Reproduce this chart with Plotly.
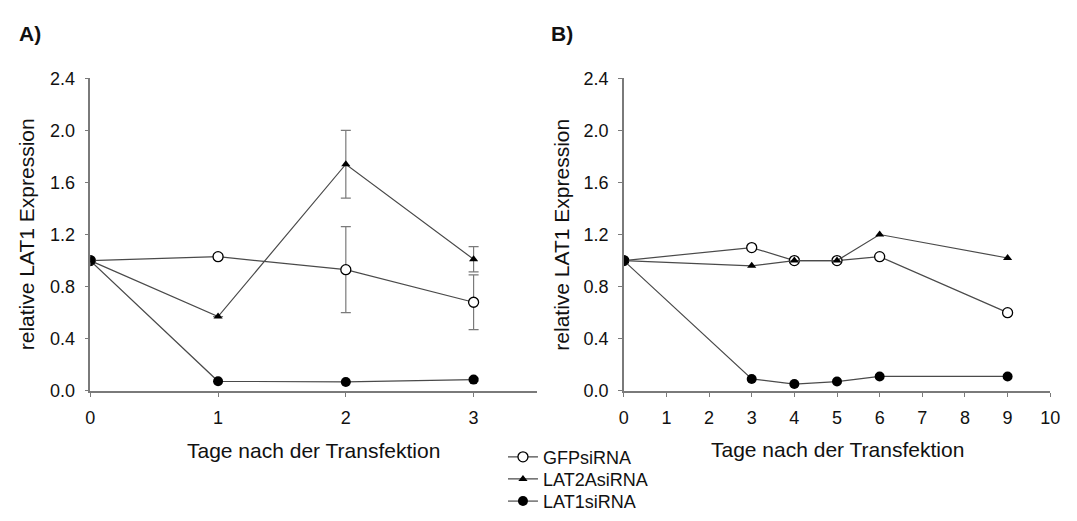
import plotly.graph_objects as go

# Panel A: days 0-3 after transfection, mean relative LAT1 expression with SD
days_a = [0, 1, 2, 3]
gfp_a = [1.0, 1.03, 0.93, 0.68]
gfp_a_err = [0.0, 0.02, 0.33, 0.21]
lat2a_a = [1.0, 0.57, 1.74, 1.01]
lat2a_a_err = [0.0, 0.0, 0.26, 0.097]
lat1_a = [1.0, 0.073, 0.068, 0.086]
lat1_a_err = [0.0, 0.0, 0.0, 0.01]

# Panel B: longer time course
days_b = [0, 3, 4, 5, 6, 9]
gfp_b = [1.0, 1.10, 1.0, 1.0, 1.03, 0.60]
lat2a_b = [1.0, 0.96, 1.0, 1.0, 1.20, 1.02]
lat1_b = [1.0, 0.091, 0.052, 0.071, 0.11, 0.11]

series_names = ["GFPsiRNA", "LAT2AsiRNA", "LAT1siRNA"]
y_ticks = [0.0, 0.4, 0.8, 1.2, 1.6, 2.0, 2.4]

FONT = "Liberation Sans, Arial, sans-serif"
LINE = "#4a4a4a"
AXIS = "#7a7a7a"

W, H = 1077, 521


def px_x(p):
    return p / W


def px_y(p):
    return 1 - p / H


fig = go.Figure()

marker_styles = [
    dict(symbol="circle", size=10, color="white", line=dict(width=1.3, color="black")),
    dict(symbol="triangle-up", size=8, color="black"),
    dict(symbol="circle", size=10, color="black"),
]
legend_ids = ["legend", "legend2", "legend3"]


def err(arr):
    return dict(type="data", array=arr, visible=True, color=AXIS, thickness=1.2, width=5)


def add_series(x, y, idx, xa, ya, error=None, show=False):
    fig.add_trace(go.Scatter(
        x=x, y=y, mode="lines+markers", name=series_names[idx],
        xaxis=xa, yaxis=ya, showlegend=show, legend=legend_ids[idx],
        line=dict(color=LINE, width=1.2),
        marker=marker_styles[idx],
        error_y=error,
    ))


add_series(days_a, gfp_a, 0, "x", "y", err(gfp_a_err), show=True)
add_series(days_a, lat2a_a, 1, "x", "y", err(lat2a_a_err), show=True)
add_series(days_a, lat1_a, 2, "x", "y", err(lat1_a_err), show=True)

add_series(days_b, gfp_b, 0, "x2", "y2")
add_series(days_b, lat2a_b, 1, "x2", "y2")
add_series(days_b, lat1_b, 2, "x2", "y2")

y_dom = [px_y(396), px_y(71)]
common_axis = dict(
    showgrid=False, zeroline=False, showline=True, linecolor=AXIS, linewidth=1.5,
    ticks="outside", ticklen=4, tickwidth=1.2, tickcolor=AXIS,
    tickfont=dict(family=FONT, size=18, color="#111"),
)

# one single-item legend per series so each row sits at its own height
legend_rows = [465, 488, 511]
legend_common = dict(
    xanchor="left", yanchor="middle",
    font=dict(family=FONT, size=18, color="#111"),
    bgcolor="rgba(0,0,0,0)", borderwidth=0, itemwidth=30,
)
legends = {}
for lid, row in zip(legend_ids, legend_rows):
    legends[lid] = dict(x=px_x(505), y=px_y(row), **legend_common)

fig.update_layout(
    width=W, height=H,
    margin=dict(l=0, r=0, t=0, b=0),
    paper_bgcolor="white", plot_bgcolor="white",
    showlegend=True,
    xaxis=dict(domain=[px_x(86.5), px_x(540)], range=[0, 3.5],
               tickvals=days_a, ticklabelstandoff=6, **common_axis),
    yaxis=dict(domain=y_dom, range=[0, 2.4], tickvals=y_ticks,
               tickformat=".1f", ticklabelstandoff=6, **common_axis),
    xaxis2=dict(domain=[px_x(627.5), px_x(1060)], range=[0, 10],
                tickvals=list(range(0, 11)), ticklabelstandoff=6, anchor="y2", **common_axis),
    yaxis2=dict(domain=y_dom, range=[0, 2.4], tickvals=y_ticks,
                tickformat=".1f", ticklabelstandoff=6, anchor="x2", **common_axis),
    **legends,
)

title_font = dict(family=FONT, size=21, color="#111")
annotations = [
    dict(text="<b>A)</b>", x=px_x(12), y=px_y(24), xanchor="left", yanchor="middle",
         font=dict(family=FONT, size=21, color="#111")),
    dict(text="<b>B)</b>", x=px_x(552), y=px_y(24), xanchor="left", yanchor="middle",
         font=dict(family=FONT, size=21, color="#111")),
    dict(text="Tage nach der Transfektion", x=px_x(313), y=px_y(458),
         xanchor="center", yanchor="middle", font=title_font),
    dict(text="Tage nach der Transfektion", x=px_x(844), y=px_y(457),
         xanchor="center", yanchor="middle", font=title_font),
    dict(text="relative LAT1 Expression", x=px_x(22), y=px_y(233.5), textangle=-90,
         xanchor="center", yanchor="middle", font=title_font),
    dict(text="relative LAT1 Expression", x=px_x(564), y=px_y(233.5), textangle=-90,
         xanchor="center", yanchor="middle", font=title_font),
]
for a in annotations:
    a.update(xref="paper", yref="paper", showarrow=False)
fig.update_layout(annotations=annotations)

fig.write_html("out.html")
